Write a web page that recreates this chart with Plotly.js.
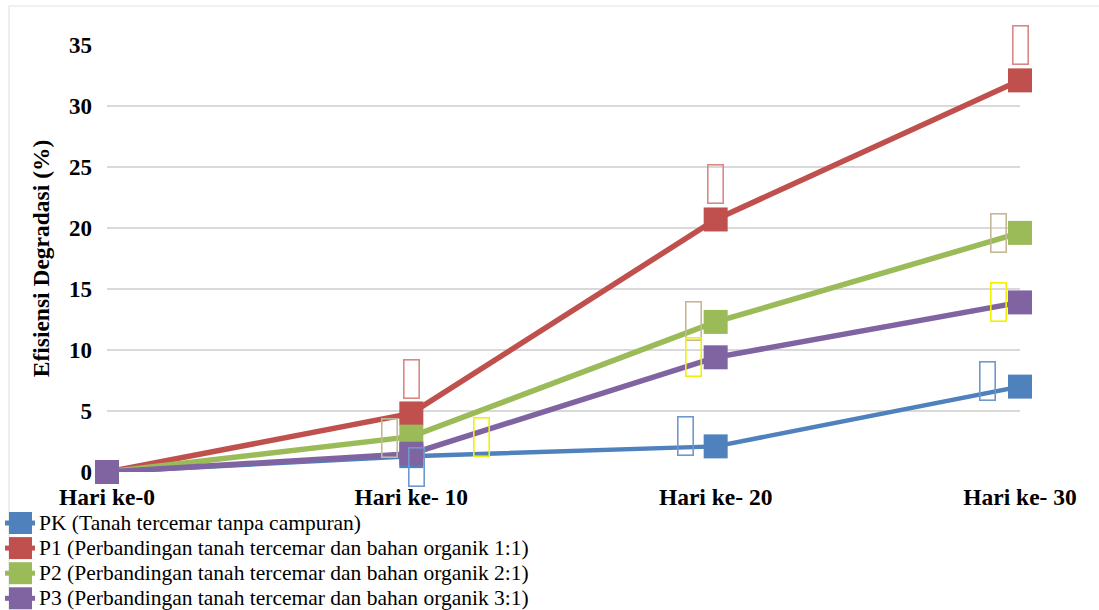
<!DOCTYPE html>
<html>
<head>
<meta charset="utf-8">
<script src="https://cdn.plot.ly/plotly-3.0.1.min.js"></script>
<style>
  html, body { margin: 0; padding: 0; background: #ffffff; }
  #chart { width: 1099px; height: 610px; }
</style>
</head>
<body>
<div id="chart"></div>
<script>
// Sampling days
const days = ['Hari ke-0', 'Hari ke- 10', 'Hari ke- 20', 'Hari ke- 30'];

// Degradation efficiency (%) for each treatment
const pk = [0, 1.3, 2.1, 7.0];
const p1 = [0, 4.8, 20.7, 32.1];
const p2 = [0, 2.9, 12.3, 19.6];
const p3 = [0, 1.5, 9.4, 13.9];

const seriesNames = [
  'PK (Tanah tercemar tanpa campuran)',
  'P1 (Perbandingan tanah tercemar dan bahan organik 1:1)',
  'P2 (Perbandingan tanah tercemar dan bahan organik 2:1)',
  'P3 (Perbandingan tanah tercemar dan bahan organik 3:1)'
];

const yTicks = [0, 5, 10, 15, 20, 25, 30, 35];

// Styling for each series: line/marker colour, line width,
// label box colour and pixel offsets of the label boxes (one per day, day 0 has none)
const styles = [
  { color: '#4f81bd', width: 4.5, box: '#6f98cc',
    offs: [null, [5, -11], [-30, 10], [-33, 6]] },
  { color: '#c0504d', width: 5.5, box: '#d98886',
    offs: [null, [0, 34], [0, 35], [0, 35]] },
  { color: '#9bbb59', width: 5.5, box: '#c4b996',
    offs: [null, [-22, -1], [-22, 1], [-22, 0]] },
  { color: '#8064a2', width: 5.5, box: '#f2f200',
    offs: [null, [70, 17], [-22, 0], [-22, 0]] }
];

const values = [pk, p1, p2, p3];
const serif = 'Liberation Serif';

// Figure geometry (px) and helpers to place legend items in paper units
const W = 1099, H = 610;
const M = { l: 107, r: 79, t: 45, b: 138 };
const plotW = W - M.l - M.r, plotH = H - M.t - M.b;
const px = x => (x - M.l) / plotW;
const py = y => (H - M.b - y) / plotH;

const traces = values.map((v, i) => ({
  type: 'scatter',
  mode: 'lines+markers',
  x: days,
  y: v,
  name: seriesNames[i],
  line: { color: styles[i].color, width: styles[i].width },
  marker: { symbol: 'square', size: 24, color: styles[i].color },
  cliponaxis: false,
  showlegend: false
}));

// Small outlined label boxes next to the points
const annotations = [];
values.forEach((v, i) => {
  v.forEach((val, j) => {
    const o = styles[i].offs[j];
    if (!o) return;
    annotations.push({
      x: days[j], y: val, xref: 'x', yref: 'y',
      text: '\u00a0', showarrow: false,
      xshift: o[0], yshift: o[1],
      width: 12, height: 35,
      bordercolor: styles[i].box, borderwidth: 1.6, borderpad: 1,
      font: { size: 10, family: serif }
    });
  });
});

// Legend below the plot: a swatch and a label per series
const legendTop = 523, legendStep = 25.1;
const shapes = [{
  type: 'rect', xref: 'paper', yref: 'paper', layer: 'below',
  x0: px(9), x1: px(1115), y0: py(625), y1: py(6),
  line: { color: '#e3e3e3', width: 1.2 }, fillcolor: 'rgba(0,0,0,0)'
}];
seriesNames.forEach((name, i) => {
  const cy = legendTop + i * legendStep;
  shapes.push({
    type: 'line', xref: 'paper', yref: 'paper',
    x0: px(5), x1: px(35), y0: py(cy), y1: py(cy),
    line: { color: styles[i].color, width: 5 }
  });
  shapes.push({
    type: 'rect', xref: 'paper', yref: 'paper',
    x0: px(9), x1: px(32), y0: py(cy + 11), y1: py(cy - 11),
    line: { width: 0 }, fillcolor: styles[i].color
  });
  annotations.push({
    xref: 'paper', yref: 'paper', x: px(37), y: py(cy),
    xanchor: 'left', yanchor: 'middle', showarrow: false,
    text: name,
    font: { family: serif, size: 21.5, color: '#000000' }
  });
});

const layout = {
  width: W,
  height: H,
  paper_bgcolor: '#ffffff',
  plot_bgcolor: '#ffffff',
  margin: { l: M.l, r: M.r, t: M.t, b: M.b, autoexpand: false },
  showlegend: false,
  xaxis: {
    type: 'category',
    range: [0, 3],
    showgrid: false,
    zeroline: false,
    showline: false,
    ticks: '',
    ticklabelstandoff: 8,
    tickfont: { family: serif, size: 23.5, color: '#000000', weight: 'bold' },
    fixedrange: true
  },
  yaxis: {
    range: [0, 35],
    tickvals: yTicks,
    ticktext: yTicks.map(String),
    showgrid: true,
    gridcolor: '#d9d9d9',
    gridwidth: 1.3,
    zeroline: false,
    showline: false,
    ticks: '',
    ticklabelstandoff: 14,
    tickfont: { family: serif, size: 23, color: '#000000', weight: 'bold' },
    title: {
      text: 'Efisiensi Degradasi (%)',
      font: { family: serif, size: 23.5, color: '#000000', weight: 'bold' },
      standoff: 12
    },
    fixedrange: true
  },
  shapes: shapes,
  annotations: annotations
};

Plotly.newPlot('chart', traces, layout, { displayModeBar: false, staticPlot: true });
</script>
</body>
</html>
